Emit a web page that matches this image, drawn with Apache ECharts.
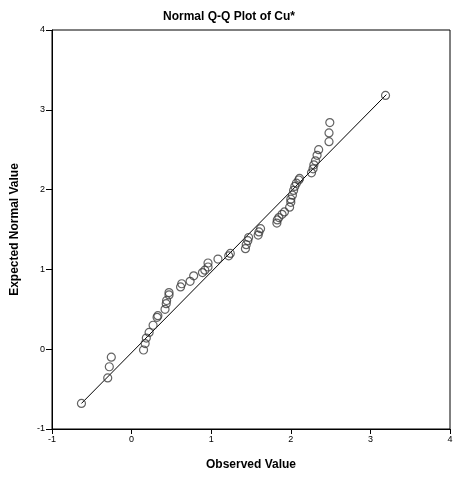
<!DOCTYPE html>
<html>
<head>
<meta charset="utf-8">
<script src="https://cdn.jsdelivr.net/npm/echarts@6/dist/echarts.min.js"></script>
<style>html,body{margin:0;padding:0;background:#fff;}#c{width:458px;height:478px;}</style>
</head>
<body>
<div id="c"></div>
<script>
var observed = [-0.63,-0.30,-0.28,-0.255,0.15,0.17,0.185,0.22,0.27,0.32,0.33,0.42,0.435,0.44,0.47,0.47,0.615,0.63,0.735,0.78,0.89,0.92,0.96,0.96,1.085,1.22,1.24,1.43,1.44,1.46,1.47,1.59,1.60,1.62,1.825,1.83,1.85,1.89,1.92,1.985,2.0,2.0,2.02,2.035,2.05,2.07,2.10,2.11,2.26,2.28,2.29,2.31,2.33,2.35,2.48,2.48,2.49,3.19];
var expected = [-0.68,-0.36,-0.22,-0.10,-0.01,0.07,0.14,0.21,0.30,0.40,0.42,0.50,0.57,0.61,0.68,0.71,0.78,0.82,0.85,0.92,0.96,0.99,1.03,1.08,1.13,1.17,1.20,1.26,1.31,1.36,1.40,1.43,1.47,1.51,1.58,1.62,1.65,1.69,1.72,1.78,1.84,1.88,1.93,1.99,2.04,2.08,2.12,2.14,2.21,2.26,2.31,2.36,2.43,2.50,2.60,2.71,2.84,3.18];
var refLineX = [-0.63, 3.20];
var refLineY = [-0.68, 3.19];
var xTicks = [-1, 0, 1, 2, 3, 4];
var yTicks = [-1, 0, 1, 2, 3, 4];

var pts = observed.map(function(v, i){ return [v, expected[i]]; });
var line = refLineX.map(function(v, i){ return [v, refLineY[i]]; });

var chart = echarts.init(document.getElementById('c'), null, {renderer:'canvas'});
var labelStyle = {color:'#000', fontSize:9, fontFamily:'Arial, "Liberation Sans", sans-serif'};
chart.setOption({
  animation:false,
  backgroundColor:'#fff',
  title:{text:'Normal Q-Q Plot of Cu*', left:'center', top:6,
    textStyle:{fontSize:12, fontWeight:'bold', color:'#000', fontFamily:'Arial, "Liberation Sans", sans-serif'}},
  grid:{left:52, top:30, width:398, height:399, show:true, borderColor:'#000', borderWidth:1, backgroundColor:'transparent'},
  xAxis:{type:'value', min:xTicks[0], max:xTicks[xTicks.length-1], interval:1,
    name:'Observed Value', nameLocation:'middle', nameGap:30,
    nameTextStyle:{fontSize:12, fontWeight:'bold', color:'#000', fontFamily:'Arial, "Liberation Sans", sans-serif'},
    axisLine:{onZero:false, lineStyle:{color:'#000', width:1}},
    axisTick:{inside:false, length:5, lineStyle:{color:'#000'}},
    axisLabel:Object.assign({margin:6}, labelStyle),
    splitLine:{show:false}},
  yAxis:{type:'value', min:yTicks[0], max:yTicks[yTicks.length-1], interval:1,
    name:'Expected Normal Value', nameLocation:'middle', nameGap:31,
    nameTextStyle:{fontSize:12, fontWeight:'bold', color:'#000', fontFamily:'Arial, "Liberation Sans", sans-serif'},
    axisLine:{onZero:false, lineStyle:{color:'#000', width:1}},
    axisTick:{inside:false, length:6, lineStyle:{color:'#000'}},
    axisLabel:Object.assign({margin:7}, labelStyle),
    splitLine:{show:false}},
  series:[
    {type:'line', data:line, symbol:'none', lineStyle:{color:'#000', width:1}, z:2},
    {type:'scatter', data:pts, symbol:'circle', symbolSize:8,
     itemStyle:{color:'rgba(255,255,255,0)', borderColor:'#3c3c3c', borderWidth:1.2}, z:3}
  ]
});
</script>
</body>
</html>
